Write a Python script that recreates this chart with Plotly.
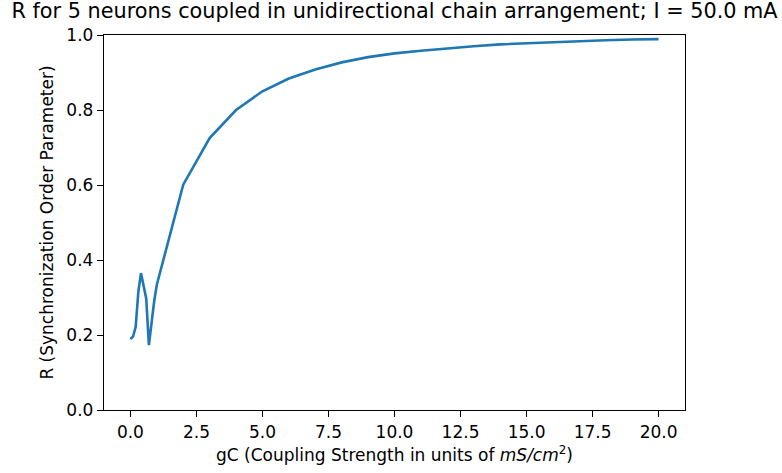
import plotly.graph_objects as go

gc = [0.0, 0.1, 0.2, 0.3, 0.4, 0.5, 0.6, 0.7, 0.8, 0.9, 1.0,
      2, 3, 4, 5, 6, 7, 8, 9, 10, 11, 12, 13, 14, 15, 16, 17, 18, 19, 20]
r_vals = [0.189, 0.196, 0.222, 0.315, 0.365, 0.330, 0.297, 0.173, 0.240, 0.290, 0.334,
          0.601, 0.725, 0.800, 0.850, 0.884, 0.908, 0.927, 0.941, 0.951, 0.958, 0.965,
          0.970, 0.975, 0.978, 0.981, 0.984, 0.986, 0.988, 0.989]

x_ticks = [0, 2.5, 5, 7.5, 10, 12.5, 15, 17.5, 20]
y_ticks = [0.0, 0.2, 0.4, 0.6, 0.8, 1.0]

font_family = "DejaVu Sans"

fig = go.Figure()
fig.add_trace(go.Scatter(x=gc, y=r_vals, mode="lines",
                         line=dict(color="#1f77b4", width=2.6)))

fig.update_layout(
    width=782, height=473,
    margin=dict(l=104, r=97, t=35, b=61),
    paper_bgcolor="white", plot_bgcolor="white",
    showlegend=False,
    font=dict(family=font_family, size=17, color="black"),
    title=dict(text="R for 5 neurons coupled in unidirectional chain arrangement; I = 50.0 mA",
               x=0.5045, xanchor="center", y=0.992, yanchor="top",
               font=dict(family=font_family, size=20.8, color="black")),
)
fig.update_xaxes(
    range=[-1, 21], tickvals=x_ticks, ticktext=[f"{v:.1f}" for v in x_ticks],
    showgrid=False, zeroline=False, showline=True, linecolor="black", linewidth=1.4,
    mirror=True, ticks="outside", ticklen=6, tickwidth=1.4, tickcolor="black",
    tickfont=dict(size=17),
    title=dict(text="gC (Coupling Strength in units of <i>mS/cm</i><sup>2</sup>)",
               font=dict(size=17), standoff=8),
)
fig.update_yaxes(
    range=[0, 1], tickvals=y_ticks, ticktext=[f"{v:.1f}" for v in y_ticks],
    showgrid=False, zeroline=False, showline=True, linecolor="black", linewidth=1.4,
    mirror=True, ticks="outside", ticklen=6, tickwidth=1.4, tickcolor="black",
    tickfont=dict(size=17),
    title=dict(text="R (Synchronization Order Parameter)", font=dict(size=17), standoff=8),
)

fig.write_html("out.html")
